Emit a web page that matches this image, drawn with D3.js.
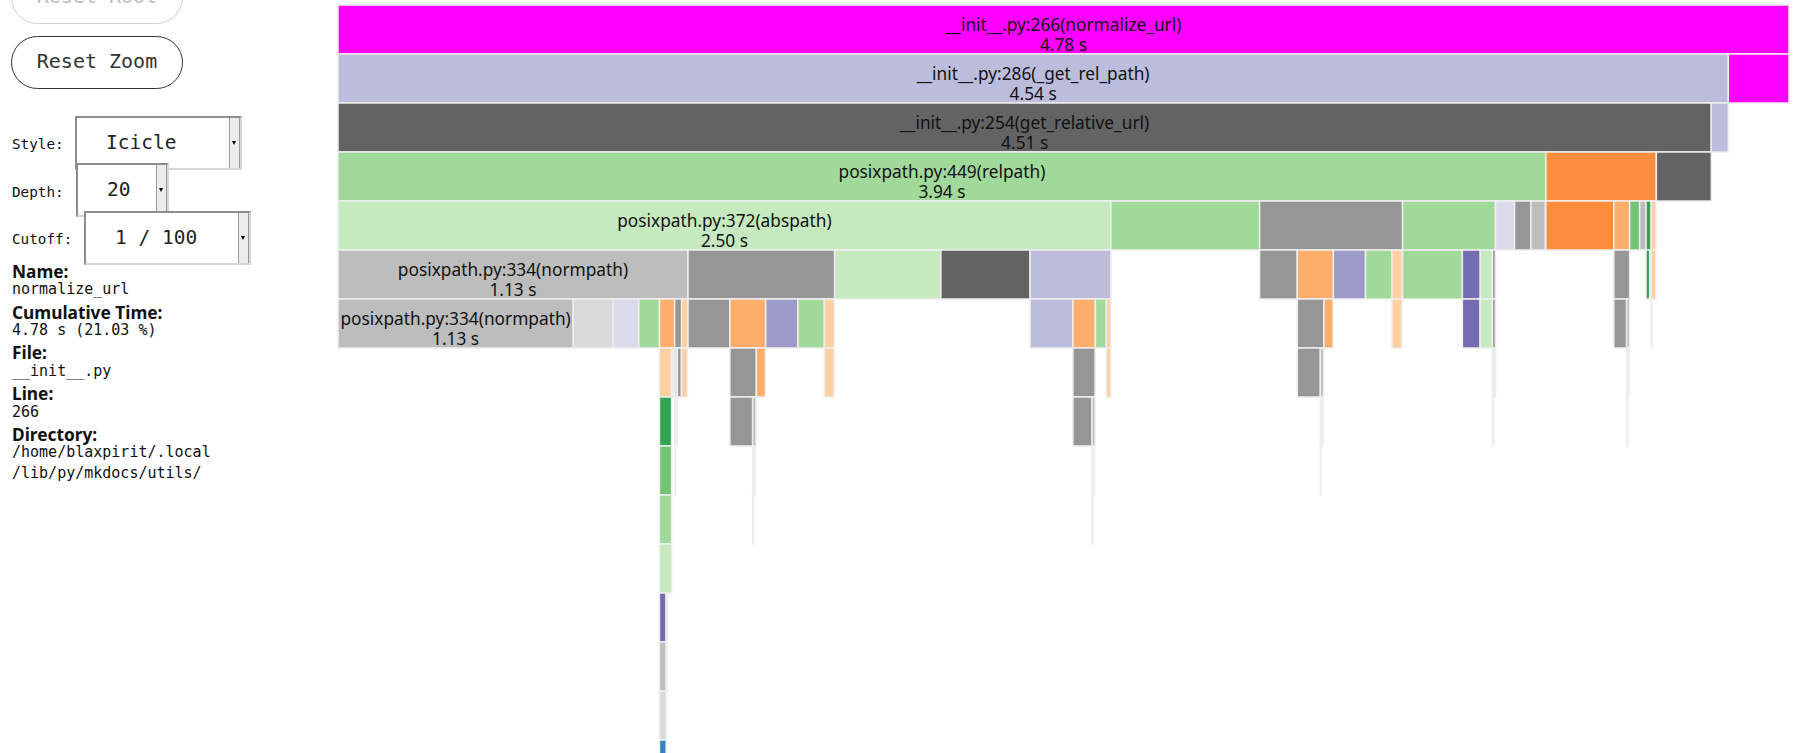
<!DOCTYPE html>
<html>
<head>
<meta charset="utf-8">
<title>normalize_url - icicle</title>
<script src="https://d3js.org/d3.v7.min.js"></script>
<style>
  body { margin: 0; width: 1804px; height: 753px; overflow: hidden; position: relative; background: #fff; }
  .btn {
    position: absolute; left: 11px; width: 172px; height: 53px; box-sizing: border-box;
    border: 1.6px solid #333; border-radius: 27px; background: #fff;
    font: 20px "DejaVu Sans Mono", monospace; color: #333; text-align: center; line-height: 49px;
  }
  .btn.off { border-color: #cfcfcf; color: #bdbdbd; }
  .lbl { position: absolute; left: 12px; font: 14.3px "DejaVu Sans Mono", monospace; color: #111; line-height: 20px; }
  .sel {
    position: absolute; box-sizing: border-box; background: #fff; height: 54px;
    border: 2px solid; border-color: #8d8d8d #d6d6d6 #d6d6d6 #8d8d8d;
    font: 19.5px "DejaVu Sans Mono", monospace; color: #222; line-height: 50px; padding-left: 29px;
  }
  .sel .strip {
    position: absolute; right: 0; top: 0; bottom: 0; width: 9px;
    background: #ececec; border-left: 1.5px solid #9a9a9a; border-right: 1.5px solid #9a9a9a;
  }
  .sel .strip:after {
    content: ""; position: absolute; left: 2px; top: 50%; margin-top: -2px;
    border-left: 2.5px solid transparent; border-right: 2.5px solid transparent; border-top: 4px solid #000;
  }
  #info { position: absolute; left: 12px; top: 259.8px; color: #111; }
  #info div { height: 20.4px; line-height: 20.4px; white-space: nowrap; }
  #info .h { font: bold 17.3px "Noto Sans", sans-serif; }
  #info .v { font: 15px "DejaVu Sans Mono", monospace; }
  svg { position: absolute; left: 0; top: 0; }
  svg text { font-family: "Noto Sans", sans-serif; font-size: 17.3px; fill: #111; text-anchor: middle; }
</style>
</head>
<body>
<div class="btn off" style="top:-29px">Reset Root</div>
<div class="btn" style="top:36px">Reset Zoom</div>

<div class="lbl" style="top:134px">Style:</div>
<div class="sel" style="left:75px; top:116px; width:167px">Icicle<div class="strip"></div></div>
<div class="lbl" style="top:182px">Depth:</div>
<div class="sel" style="left:76px; top:163px; width:93px">20<div class="strip"></div></div>
<div class="lbl" style="top:229px">Cutoff:</div>
<div class="sel" style="left:84px; top:211px; width:167px">1 / 100<div class="strip"></div></div>

<div id="info">
  <div class="h">Name:</div>
  <div class="v">normalize_url</div>
  <div class="h">Cumulative Time:</div>
  <div class="v">4.78 s (21.03 %)</div>
  <div class="h">File:</div>
  <div class="v">__init__.py</div>
  <div class="h">Line:</div>
  <div class="v">266</div>
  <div class="h">Directory:</div>
  <div class="v">/home/blaxpirit/.local</div>
  <div class="v">/lib/py/mkdocs/utils/</div>
</div>

<script>
// category20c, as snakeviz uses; "hl" is the magenta of normalize_url
var category20c = ["#3182bd", "#6baed6", "#9ecae1", "#c6dbef", "#e6550d", "#fd8d3c", "#fdae6b", "#fdd0a2",
                   "#31a354", "#74c476", "#a1d99b", "#c7e9c0", "#756bb1", "#9e9ac8", "#bcbddc", "#dadaeb",
                   "#636363", "#969696", "#bdbdbd", "#d9d9d9"];

// [id, parent, cumulative seconds (as drawn), colour index]
var depth0 = [["root", null, 4.78, "hl"]];
var depth1 = [["A", "root", 4.580, 14], ["B", "root", 0.200, "hl"]];
var depth2 = [["C", "A", 4.524, 16], ["D", "A", 0.056, 14]];
var depth3 = [["E", "C", 3.979, 10], ["F", "C", 0.364, 5], ["G", "C", 0.181, 16]];
var depth4 = [["H", "E", 2.546, 11], ["I", "E", 0.490, 10], ["J", "E", 0.471, 17], ["K", "E", 0.306, 10],
              ["L", "E", 0.063, 15], ["M", "E", 0.054, 17], ["N", "E", 0.047, 18],
              ["O", "F", 0.224, 5], ["P", "F", 0.052, 6], ["Q", "F", 0.033, 9], ["R", "F", 0.021, 18],
              ["S", "F", 0.017, 8], ["T", "F", 0.016, 7]];
var depth5 = [["U", "H", 1.153, 18], ["V", "H", 0.483, 17], ["W", "H", 0.350, 11], ["X", "H", 0.294, 16], ["Y", "H", 0.266, 14],
              ["J1", "J", 0.124, 17], ["J2", "J", 0.119, 6], ["J3", "J", 0.106, 13], ["J4", "J", 0.087, 10], ["J5", "J", 0.034, 7],
              ["K1", "K", 0.197, 10], ["K2", "K", 0.059, 12], ["K3", "K", 0.040, 11], ["K4", "K", 0.010, 17],
              ["P1", "P", 0.052, 17], ["S1", "S", 0.012, 8], ["T1", "T", 0.015, 7]];
var depth6 = [["U1", "U", 0.775, 18], ["U2", "U", 0.132, 19], ["U3", "U", 0.084, 15], ["U4", "U", 0.068, 10],
              ["U5", "U", 0.050, 6], ["U6", "U", 0.023, 17], ["U7", "U", 0.020, 7],
              ["V1", "V", 0.138, 17], ["V2", "V", 0.118, 6], ["V3", "V", 0.106, 13], ["V4", "V", 0.087, 10], ["V5", "V", 0.033, 7],
              ["Y1", "Y", 0.141, 14], ["Y2", "Y", 0.074, 6], ["Y3", "Y", 0.036, 10], ["Y4", "Y", 0.015, 7],
              ["J2a", "J2", 0.088, 17], ["J2b", "J2", 0.030, 6], ["J5a", "J5", 0.033, 7],
              ["K2a", "K2", 0.058, 12], ["K3a", "K3", 0.040, 11], ["K4a", "K4", 0.010, 17],
              ["P1a", "P1", 0.042, 17], ["P1b", "P1", 0.010, 18], ["T1a", "T1", 0.003, 3]];
var depth7 = [["U5a", "U5", 0.040, 7], ["U5b", "U5", 0.005, 19], ["U6a", "U6", 0.009, 19], ["U6b", "U6", 0.013, 17],
              ["U7a", "U7", 0.019, 7], ["V2a", "V2", 0.087, 17], ["V2b", "V2", 0.030, 6], ["V5a", "V5", 0.032, 7],
              ["Y2a", "Y2", 0.073, 17], ["Y4a", "Y4", 0.015, 7], ["J2a1", "J2a", 0.076, 17], ["J2a2", "J2a", 0.011, 18],
              ["K4a1", "K4a", 0.006, 3], ["K4a2", "K4a", 0.004, 15], ["P1b1", "P1b", 0.005, 3], ["P1b2", "P1b", 0.004, 3]];
var depth8 = [["U5a1", "U5a", 0.040, 8], ["U6a1", "U6a", 0.004, 3], ["U6a2", "U6a", 0.004, 3],
              ["V2a1", "V2a", 0.075, 17], ["V2a2", "V2a", 0.011, 18], ["Y2a1", "Y2a", 0.063, 17], ["Y2a2", "Y2a", 0.010, 18],
              ["J2a2a", "J2a2", 0.005, 3], ["J2a2b", "J2a2", 0.004, 3], ["K4a1a", "K4a1", 0.004, 3], ["P1b1a", "P1b1", 0.004, 3]];
var depth9 = [["D9a", "U5a1", 0.040, 9], ["D9b", "U6a1", 0.003, 3], ["D9c", "V2a2", 0.004, 3], ["D9d", "V2a2", 0.004, 3],
              ["D9e", "Y2a2", 0.004, 3], ["D9f", "Y2a2", 0.004, 3], ["D9g", "J2a2a", 0.003, 3]];
var depth10 = [["D10a", "D9a", 0.040, 10], ["D10b", "D9c", 0.003, 3], ["D10c", "D9e", 0.003, 3]];
var depth11 = [["D11a", "D10a", 0.040, 11]];
var depth12 = [["D12a", "D11a", 0.022, 12], ["D12b", "D11a", 0.005, 3]];
var depth13 = [["D13a", "D12a", 0.022, 18], ["D13b", "D12b", 0.004, 3]];
var depth14 = [["D14a", "D13a", 0.022, 19]];
var depth15 = [["D15a", "D14a", 0.022, 0]];

var labelled = {
  root: ["__init__.py:266(normalize_url)", "4.78 s"],
  A:    ["__init__.py:286(_get_rel_path)", "4.54 s"],
  C:    ["__init__.py:254(get_relative_url)", "4.51 s"],
  E:    ["posixpath.py:449(relpath)", "3.94 s"],
  H:    ["posixpath.py:372(abspath)", "2.50 s"],
  U:    ["posixpath.py:334(normpath)", "1.13 s"],
  U1:   ["posixpath.py:334(normpath)", "1.13 s"]
};

var levels = 16, rowH = 49;

var rows = [].concat(depth0, depth1, depth2, depth3, depth4, depth5, depth6, depth7, depth8,
                     depth9, depth10, depth11, depth12, depth13, depth14, depth15)
  .map(function(r) { return {id: r[0], parent: r[1], sec: r[2], c: r[3]}; });

var root = d3.stratify().id(function(d) { return d.id; }).parentId(function(d) { return d.parent; })(rows);
// own time = drawn time minus children, so partition keeps the gap on the right
root.each(function(n) {
  n.data.self = Math.max(0, n.data.sec - d3.sum(n.children || [], function(c) { return c.data.sec; }));
});
root.sum(function(d) { return d.self; });
d3.partition().size([1, 1])(root);

var x = d3.scaleLinear().domain([0, 1]).range([338, 1789]);
var y = d3.scaleLinear().domain([0, 1]).range([5, 5 + rowH * levels]);
var colour = d3.scaleOrdinal()
  .domain(d3.range(20).concat(["hl"]))
  .range(category20c.concat(["#ff00ff"]));

var svg = d3.select("body").append("svg")
  .attr("width", 1804)
  .attr("height", 753);

var nodes = root.descendants();

svg.selectAll("rect")
  .data(nodes)
  .enter()
  .append("rect")
  .attr("x", function(d) { return x(d.x0); })
  .attr("y", function(d) { return y(d.y0); })
  .attr("width", function(d) { return x(d.x1) - x(d.x0); })
  .attr("height", function(d) { return y(d.y1) - y(d.y0); })
  .attr("fill", function(d) { return colour(d.data.c); })
  .attr("stroke", "#eee")
  .attr("stroke-width", 1.5);

var withText = svg.selectAll("text.name")
  .data(nodes.filter(function(d) { return labelled[d.id] && x(d.x1) - x(d.x0) > 200; }))
  .enter()
  .append("text")
  .attr("class", "name")
  .attr("x", function(d) { return (x(d.x0) + x(d.x1)) / 2; })
  .attr("y", function(d) { return y(d.y0) + 25.5; });

withText.append("tspan")
  .text(function(d) { return labelled[d.id][0]; });
withText.append("tspan")
  .attr("x", function(d) { return (x(d.x0) + x(d.x1)) / 2; })
  .attr("dy", 20.2)
  .text(function(d) { return labelled[d.id][1]; });
</script>
</body>
</html>
